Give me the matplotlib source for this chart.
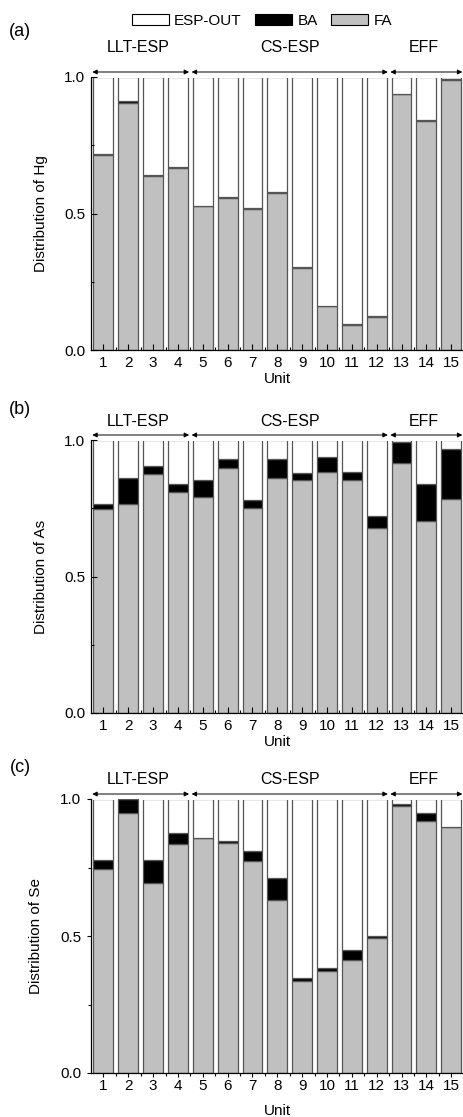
import matplotlib
matplotlib.use("Agg")
import matplotlib.pyplot as plt
from matplotlib.patches import Patch
from matplotlib.ticker import MultipleLocator
from matplotlib.transforms import Bbox, TransformedBbox

plt.rcParams['font.family'] = ['Liberation Sans', 'DejaVu Sans']
plt.rcParams['font.size'] = 11

units = list(range(1, 16))

# fractions; ESP-OUT is the rest up to 1
hg_fa = [0.715, 0.905, 0.638, 0.665, 0.526, 0.555, 0.517, 0.575, 0.302,
         0.161, 0.093, 0.121, 0.936, 0.840, 0.990]
hg_ba = [0.003, 0.008, 0.002, 0.004, 0.003, 0.005, 0.002, 0.005, 0.002,
         0.002, 0.001, 0.002, 0.003, 0.004, 0.002]

as_fa = [0.749, 0.765, 0.874, 0.811, 0.793, 0.899, 0.752, 0.861, 0.855,
         0.884, 0.855, 0.677, 0.916, 0.704, 0.785]
as_ba = [0.017, 0.097, 0.032, 0.029, 0.061, 0.031, 0.028, 0.069, 0.023,
         0.054, 0.028, 0.046, 0.077, 0.134, 0.182]

se_fa = [0.745, 0.949, 0.695, 0.837, 0.857, 0.840, 0.772, 0.632, 0.334,
         0.374, 0.411, 0.493, 0.973, 0.919, 0.897]
se_ba = [0.032, 0.051, 0.084, 0.039, 0.002, 0.008, 0.040, 0.078, 0.012,
         0.009, 0.039, 0.008, 0.010, 0.030, 0.002]

groups = ['LLT-ESP', 'CS-ESP', 'EFF']
group_span = [(0.55, 4.45), (4.55, 12.45), (12.55, 15.45)]
group_label_x = [2.4, 8.5, 13.9]

panels = [('(a)', 'Hg', hg_fa, hg_ba),
          ('(b)', 'As', as_fa, as_ba),
          ('(c)', 'Se', se_fa, se_ba)]

W, H = 463, 1117
fig = plt.figure(figsize=(W / 100, H / 100), dpi=100)

# pixel layout: (axes top, axes bottom, panel letter y, group label y)
layout = [(77, 350, 32, 47), (440, 713, 409, 421), (799, 1073, 768, 779)]
left_px, width_px = 91, 372.6

edge = '#555555'

for (tag, elem, fa, ba), (top, bot, tag_y, lab_y) in zip(panels, layout):
    ax = fig.add_axes([left_px / W, 1 - bot / H, width_px / W, (bot - top) / H])
    out = [1 - f - b for f, b in zip(fa, ba)]
    bottom_out = [f + b for f, b in zip(fa, ba)]
    ax.bar(units, fa, width=0.8, color='#c0c0c0', edgecolor=edge, linewidth=0.9)
    ax.bar(units, ba, width=0.8, bottom=fa, color='black', edgecolor=edge, linewidth=0.9)
    white = ax.bar(units, out, width=0.8, bottom=bottom_out, color='white',
                   edgecolor=edge, linewidth=0.9)
    # no top outline on the white bars at 1.0
    clip = TransformedBbox(Bbox([[0.5, 0.0], [15.5, 0.997]]), ax.transData)
    for p in white:
        p.set_clip_box(clip)

    ax.set_xlim(0.5, 15.5)
    ax.set_ylim(0, 1.0)
    ax.set_xticks(units)
    ax.set_xticks([u + 0.5 for u in units[:-1]], minor=True)
    ax.set_yticks([0, 0.5, 1.0])
    ax.set_yticklabels(['0.0', '0.5', '1.0'])
    ax.yaxis.set_minor_locator(MultipleLocator(0.25))
    if tag == '(c)':
        ax.tick_params(axis='both', which='major', direction='out', length=3, width=0.8)
        ax.tick_params(axis='x', which='major', pad=1.5)
        ax.tick_params(axis='both', which='minor', direction='out', length=2, width=0.8)
        ax.set_xlabel('Unit', labelpad=8)
    else:
        ax.tick_params(axis='both', which='major', direction='in', length=4, width=0.8)
        ax.tick_params(axis='x', which='major', pad=4.5)
        ax.tick_params(axis='both', which='minor', direction='in', length=2.5, width=0.8)
        ax.set_xlabel('Unit', labelpad=1.5)
    ax.tick_params(axis='y', which='major', pad=4)
    ax.spines['top'].set_visible(False)
    ax.spines['right'].set_visible(False)
    ax.spines['left'].set_linewidth(0.9)
    ax.spines['bottom'].set_linewidth(0.9)
    ax.set_ylabel('Distribution of ' + elem, labelpad=12)

    arrow_y = 1.0 + 5 / (bot - top)
    for (x0, x1) in group_span:
        ax.annotate('', xy=(x0, arrow_y), xytext=(x1, arrow_y), annotation_clip=False,
                    arrowprops=dict(arrowstyle='<|-|>', color='black', lw=0.7,
                                    mutation_scale=7, shrinkA=0, shrinkB=0))
    ly = 1.0 + (top - lab_y) / (bot - top)
    for name, gx in zip(groups, group_label_x):
        ax.text(gx, ly, name, ha='center', va='center', fontsize=11.5)
    fig.text(20 / W, 1 - tag_y / H, tag, ha='center', va='center', fontsize=13)

handles = [Patch(facecolor='white', edgecolor='black', linewidth=0.8, label='ESP-OUT'),
           Patch(facecolor='black', edgecolor='black', linewidth=0.8, label='BA'),
           Patch(facecolor='#c0c0c0', edgecolor='black', linewidth=0.8, label='FA')]
fig.legend(handles=handles, loc='center', bbox_to_anchor=(262 / W, 1 - 21 / H), ncol=3,
           frameon=False, handlelength=2.4, handleheight=0.7, handletextpad=0.35,
           columnspacing=0.9, borderpad=0, fontsize=11)

fig.savefig('out.png', dpi=100)
